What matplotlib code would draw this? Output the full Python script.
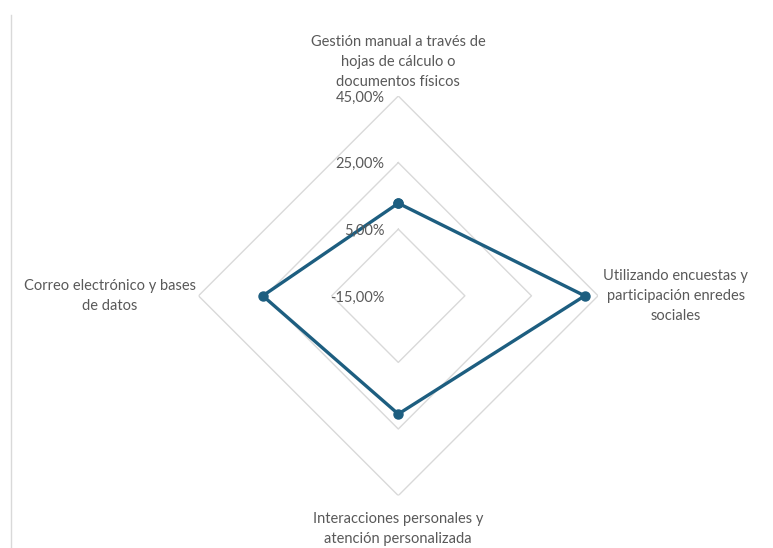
import numpy as np
import matplotlib
matplotlib.use("Agg")
import matplotlib.pyplot as plt

# datos
categorias = [
    "Gestión manual a través de\nhojas de cálculo o\ndocumentos físicos",
    "Utilizando encuestas y\nparticipación enredes\nsociales",
    "Interacciones personales y\natención personalizada",
    "Correo electrónico y bases\nde datos",
]
valores = [12.8, 41.0, 20.5, 25.7]
niveles = [-15, 5, 25, 45]
etiquetas_niveles = ["-15,00%", "5,00%", "25,00%", "45,00%"]

color_linea = "#1d5e80"
color_texto = "#595959"
color_grid = "#d9d9d9"

plt.rcParams["font.family"] = ["Lato", "DejaVu Sans"]

fig = plt.figure(figsize=(7.73, 5.48), dpi=100)
ax = fig.add_axes([0.2568, 0.0956, 0.5169, 0.7292], projection="polar")
ax.set_theta_zero_location("N")
ax.set_theta_direction(-1)
ax.set_ylim(niveles[0], niveles[-1])

angulos = np.linspace(0, 2 * np.pi, len(categorias), endpoint=False)
cerrado = np.append(angulos, angulos[0])

# rejilla poligonal
for nv in niveles[1:]:
    ax.plot(cerrado, [nv] * len(cerrado), color=color_grid, lw=1, zorder=1)

ax.plot(cerrado, valores + valores[:1], color=color_linea, lw=2.4,
        marker="o", markersize=6.5, zorder=3, clip_on=False)

ax.set_xticks([])
ax.set_yticks([])
ax.grid(False)
ax.spines["polar"].set_visible(False)
ax.patch.set_alpha(0)

# etiquetas de nivel a la izquierda del eje superior
for nv, txt in zip(niveles, etiquetas_niveles):
    ax.annotate(txt, xy=(0, nv), xytext=(-10, -1.2), textcoords="offset points",
                ha="right", va="center", fontsize=10.5, color=color_texto,
                annotation_clip=False)

# etiquetas de categorías
offsets = [(0, 5, "center", "bottom"), (56, 0, "center", "center"),
           (0, -12, "center", "top"), (-64, 0, "center", "center")]
for ang, cat, (dx, dy, ha, va) in zip(angulos, categorias, offsets):
    ax.annotate(cat, xy=(ang, niveles[-1]), xytext=(dx, dy),
                textcoords="offset points", ha=ha, va=va, fontsize=10.5,
                color=color_texto, linespacing=1.55, annotation_clip=False,
                xycoords="data")

# línea vertical fina a la izquierda
fig.add_artist(plt.Line2D([11 / 773, 11 / 773], [0, 1 - 15 / 548],
                          color="#d9d9d9", lw=1))

fig.savefig("out.png", dpi=100)
